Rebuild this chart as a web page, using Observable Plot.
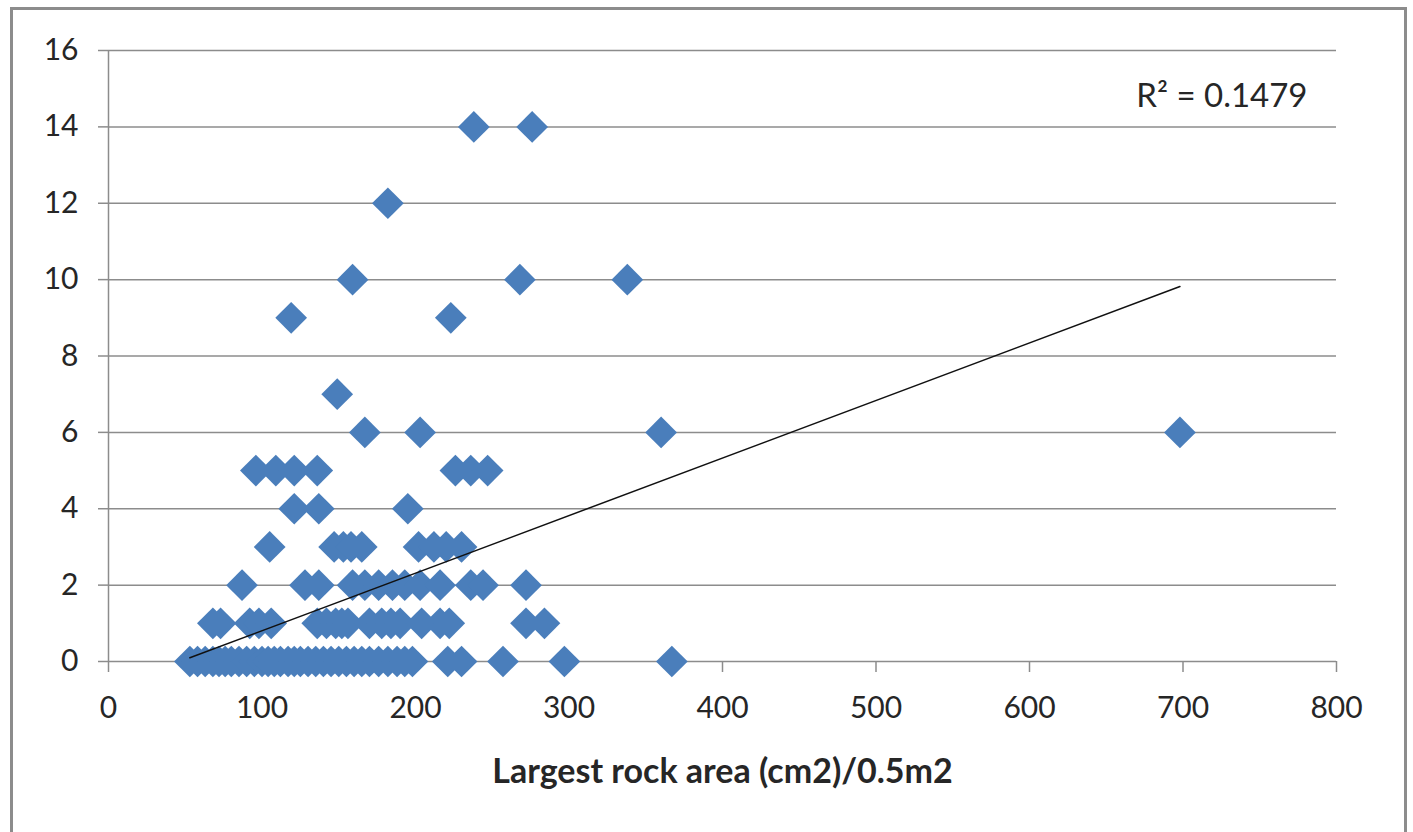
<!DOCTYPE html>
<html>
<head>
<meta charset="utf-8">
<script src="https://cdn.jsdelivr.net/npm/d3@7"></script>
<script src="https://cdn.jsdelivr.net/npm/@observablehq/plot@0.6"></script>
<style>
  html, body { margin: 0; padding: 0; background: #fff; overflow: hidden; }
  #wrap { position: relative; width: 1413px; height: 832px; }
  #frame { position: absolute; left: 10px; top: 7px; width: 1397px; height: 900px;
           box-sizing: border-box; border: 3px solid #8c8c8c; pointer-events: none; }
  svg g[aria-label="y-axis tick"], svg g[aria-label="x-axis tick"] { stroke: #8c8c8c; stroke-width: 1.5px; }
</style>
</head>
<body>
<div id="wrap"><div id="chart"></div><div id="frame"></div></div>
<script>
// Count levels (y) and the rock areas (x) observed at each level
const countLevels = [0, 1, 2, 3, 4, 5, 6, 7, 9, 10, 12, 14];
const rockAreasByLevel = [
  [53, 58, 63, 68, 72, 76, 80, 85, 90, 95, 100, 104, 108, 112, 117, 121, 125, 130, 135, 140, 145, 150, 155, 160, 165, 170, 176, 182, 188, 193, 198, 221, 230, 257, 297, 367],
  [68, 73, 92, 98, 106, 136, 142, 148, 152, 156, 170, 178, 184, 190, 204, 216, 222, 272, 284],
  [87, 128, 137, 159, 167, 176, 185, 193, 203, 216, 236, 244, 272],
  [105, 147, 153, 158, 165, 202, 212, 220, 230],
  [121, 137, 195],
  [96, 109, 121, 136, 226, 236, 247],
  [167, 203, 360, 698],
  [149],
  [119, 223],
  [159, 268, 338],
  [182],
  [238, 276]
];
const xTicks = [0, 100, 200, 300, 400, 500, 600, 700, 800];
const yTicks = [0, 2, 4, 6, 8, 10, 12, 14, 16];
const xTitle = "Largest rock area (cm2)/0.5m2";
const rSquaredLabel = "R² = 0.1479";
// Linear trendline
const trendSlope = 0.01507;
const trendIntercept = -0.70;

const points = countLevels.flatMap((lvl, i) => rockAreasByLevel[i].map(a => ({area: a, count: lvl})));
const ext = d3.extent(points, d => d.area);
const trend = ext.map(a => ({area: a, count: trendIntercept + trendSlope * a}));

const chart = Plot.plot({
  width: 1413,
  height: 832,
  marginLeft: 108,
  marginRight: 77,
  marginTop: 50,
  marginBottom: 171,
  style: {fontFamily: "Lato, 'Open Sans', sans-serif", color: "#262626", background: "white", overflow: "visible"},
  x: {domain: [0, 800]},
  y: {domain: [0, 16]},
  marks: [
    Plot.gridY(yTicks, {stroke: "#8c8c8c", strokeOpacity: 1, strokeWidth: 1.5}),
    Plot.ruleX([0], {stroke: "#8c8c8c", strokeWidth: 1.5}),
    Plot.axisY(yTicks, {tickSize: 10, tickPadding: 20, fontSize: 30, label: null}),
    Plot.axisX(xTicks, {tickSize: 11, tickPadding: 24, fontSize: 30, label: null}),
    Plot.dot(points, {x: "area", y: "count", symbol: "diamond2", r: 14.3, fill: "#4a7ebb", stroke: "none"}),
    Plot.line(trend, {x: "area", y: "count", stroke: "#111", strokeWidth: 1.5}),
    Plot.text([rSquaredLabel], {frameAnchor: "top-right", textAnchor: "end", lineAnchor: "middle", dx: -29, dy: 46, fontSize: 33, fill: "#262626"}),
    Plot.text([xTitle], {frameAnchor: "bottom", lineAnchor: "middle", dy: 111, fontSize: 34, fontWeight: "bold", fill: "#262626"})
  ]
});
document.getElementById("chart").appendChild(chart);
</script>
</body>
</html>
